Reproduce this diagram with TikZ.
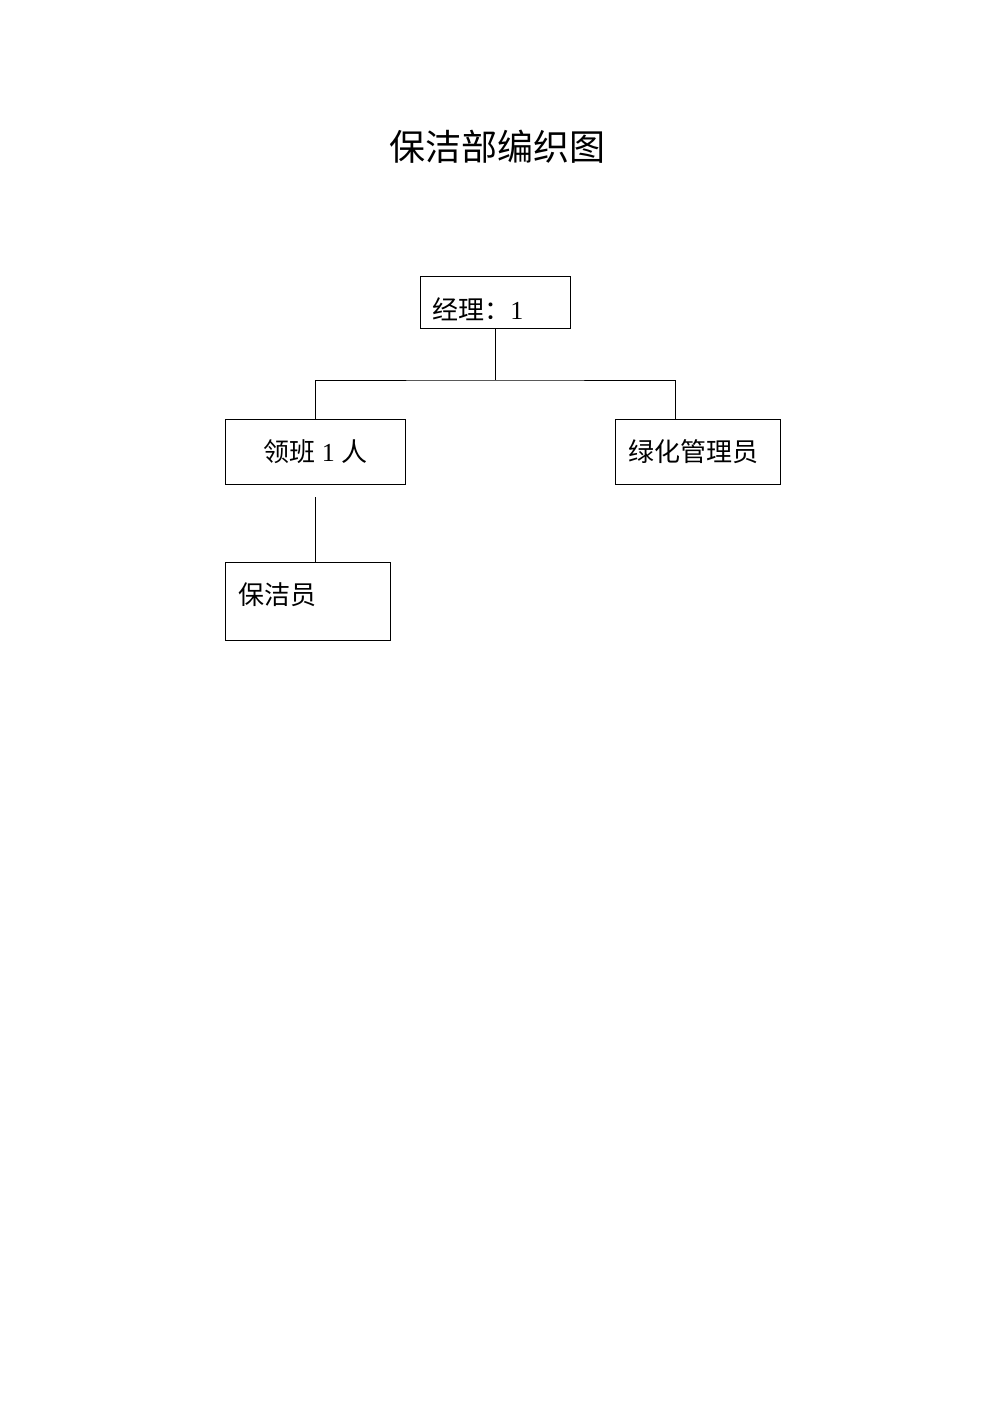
\documentclass[tikz,border=0pt]{standalone}
\usepackage{fontspec}
\setmainfont{Liberation Serif}
\newfontfamily\cjk{Noto Sans CJK SC}
\begin{document}
\begin{tikzpicture}[x=0.5pt,y=-0.5pt,
  box/.style={draw,line width=0.5pt,inner sep=0pt},
  lbl/.style={anchor=west,inner sep=0pt,font=\fontsize{13pt}{15pt}\selectfont},
  ln/.style={line width=0.5pt}]
\useasboundingbox (0,0) rectangle (993,1404);
\node[inner sep=0pt,font=\fontsize{18pt}{22pt}\selectfont] (title) at (497,147) {\cjk 保洁部编织图};
\node[box,minimum width=75pt,minimum height=26pt] (mgr) at (495,302) {};
\node[box,minimum width=90pt,minimum height=32.5pt] (lead) at (315,451.5) {};
\node[box,minimum width=82.5pt,minimum height=32.5pt] (green) at (697.5,451.5) {};
\node[box,minimum width=82.5pt,minimum height=39pt] (clean) at (307.5,601) {};
\node[lbl] (tmgr) at (432,309) {{\cjk 经理：}1};
\node[lbl] (tlead) at (263,452) {{\cjk 领班} 1 {\cjk 人}};
\node[lbl] (tgreen) at (628,452) {\cjk 绿化管理员};
\node[lbl] (tclean) at (238,595) {\cjk 保洁员};
\coordinate (bus) at (495,380);
\coordinate (gtop) at (675,419);
\coordinate (gap) at (315,497);
\draw[ln] (mgr.south) -- (bus);
\draw[ln] (lead.north) |- (bus) -| (gtop);
\draw[ln] (gap) -- (gap |- clean.north);
\end{tikzpicture}
\end{document}
